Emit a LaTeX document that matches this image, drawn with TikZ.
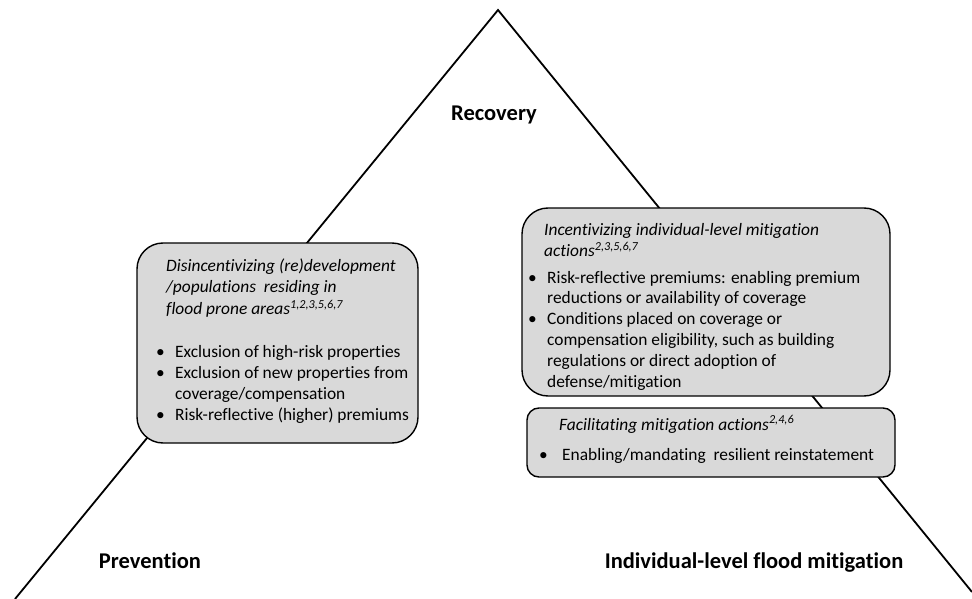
\documentclass[tikz,border=0pt]{standalone}
\usepackage{fontspec}
\usepackage{array}
\setmainfont{Carlito}[Ligatures=NoCommon]
\definecolor{boxgray}{HTML}{D9D9D9}
\tikzset{
  edge/.style={line width=1.8pt, line join=miter},
  panel/.style={draw, line width=1.4pt, fill=boxgray, anchor=north west,
    inner sep=0pt, outer sep=0pt},
  head/.style={font=\fontsize{22.5}{27}\selectfont\bfseries, anchor=base, inner sep=0pt},
  body/.style={font=\fontsize{17.4}{20.8}\selectfont, anchor=base west, inner sep=0pt},
  title/.style={anchor=base west, inner sep=0pt, font=\fontsize{17.4}{21.8}\selectfont\itshape},
}
\begin{document}
\begin{tikzpicture}[x=1pt,y=-1pt]
  \useasboundingbox (0,0) rectangle (972,599);
  % the triangle
  \coordinate (apex) at (498,10);
  \coordinate (leftfoot) at (15,599);
  \coordinate (rightfoot) at (972,592);
  \draw[edge] (leftfoot) -- (apex) -- (rightfoot);

  % corners of the triangle
  \node[head] (recovery) at (494,120.5) {Recovery};
  \node[head] (prevention) at (150,568) {Prevention};
  \node[head] (mitigation) at (754,568) {Individual-level flood mitigation};

  % prevention box
  \node[panel, rounded corners=26pt, minimum width=281pt, minimum height=200pt]
    (disbox) at (137,243) {};
  \node[title] (distitle) at (166,271) {\begin{tabular}[t]{@{}l@{}}
    Disincentivizing (re)development\\
    /populations\ \ residing in\\
    flood prone areas\textsuperscript{1,2,3,5,6,7}\end{tabular}};
  \node[body, font=\fontsize{17.4}{21.2}\selectfont] (dislist) at (156,357) {\begin{tabular}[t]{@{}p{19pt}@{}l@{}}
    \textbullet & Exclusion of high-risk properties\\
    \textbullet & Exclusion of new properties from\\
                & coverage/compensation\\
    \textbullet & Risk-reflective (higher) premiums\end{tabular}};

  % incentive box
  \node[panel, rounded corners=26pt, minimum width=368pt, minimum height=188pt]
    (incbox) at (522,208) {};
  \node[title] (inctitle) at (544,235) {\begin{tabular}[t]{@{}l@{}}
    Incentivizing individual-level mitigation\\
    actions\textsuperscript{2,3,5,6,7}\end{tabular}};
  \node[body] (inclist) at (528,283) {\begin{tabular}[t]{@{}p{19pt}@{}l@{}}
    \textbullet & Risk-reflective premiums: enabling premium\\
                & reductions or availability of coverage\\
    \textbullet & Conditions placed on coverage or\\
                & compensation eligibility, such as building\\
                & regulations or direct adoption of\\
                & defense/mitigation\end{tabular}};

  % facilitating box
  \node[panel, rounded corners=12pt, minimum width=368pt, minimum height=69pt]
    (facbox) at (527,408) {};
  \node[title] (factitle) at (559,430) {Facilitating mitigation actions\textsuperscript{2,4,6}};
  \node[body] (faclist) at (539,460) {\begin{tabular}[t]{@{}p{23pt}@{}l@{}}
    \textbullet & Enabling/mandating\ \ resilient reinstatement\end{tabular}};
\end{tikzpicture}
\end{document}
